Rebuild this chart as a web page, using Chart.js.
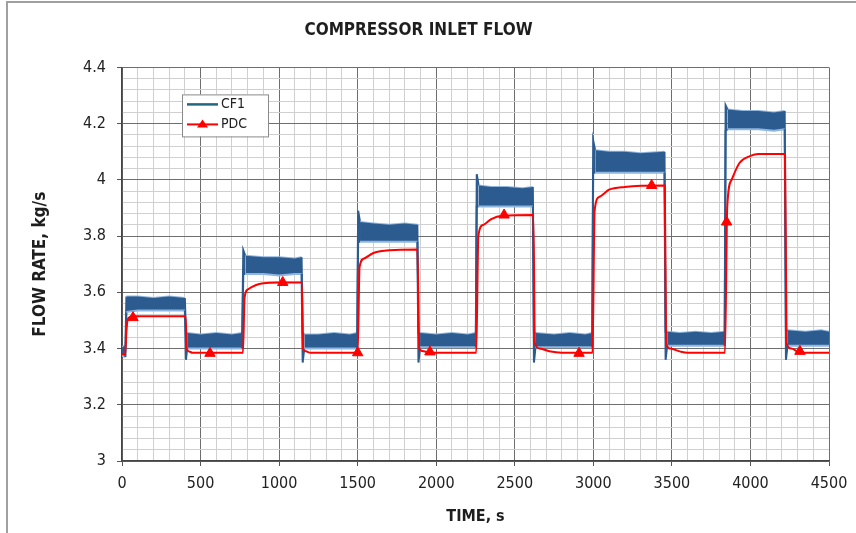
<!DOCTYPE html>
<html>
<head>
<meta charset="utf-8">
<script src="https://cdn.jsdelivr.net/npm/chart.js@4/dist/chart.umd.min.js"></script>
<style>
  html, body { margin: 0; padding: 0; background: #ffffff; }
  #wrap { position: relative; width: 856px; height: 533px; }
  canvas { display: block; }
</style>
</head>
<body>
<div id="wrap"><canvas id="c" width="856" height="533"></canvas></div>
<script>
// ---------------- DATA ----------------
const chartTitle = 'COMPRESSOR INLET FLOW';
const xTitle = 'TIME, s';
const yTitle = 'FLOW RATE, kg/s';
const seriesNames = ['CF1', 'PDC'];

// CF1 measured flow: noisy trace shown as an upper / lower envelope
const cf1Time = [0, 22, 28, 100, 200, 300, 400,
  407, 415, 500, 600, 700, 765,
  772, 785, 900, 1000, 1100, 1143,
  1150, 1160, 1250, 1350, 1450, 1497,
  1503, 1515, 1600, 1700, 1800, 1880,
  1887, 1897, 2000, 2100, 2200, 2252,
  2258, 2270, 2350, 2450, 2550, 2615,
  2622, 2632, 2750, 2850, 2950, 2993,
  2999, 3012, 3100, 3200, 3300, 3453,
  3460, 3470, 3550, 3650, 3750, 3836,
  3842, 3855, 3950, 4050, 4150, 4218,
  4226, 4236, 4350, 4450, 4500];
const cf1High = [3.405, 3.41, 3.585, 3.585, 3.58, 3.585, 3.58,
  3.45, 3.455, 3.45, 3.455, 3.45, 3.455,
  3.75, 3.73, 3.725, 3.725, 3.72, 3.725,
  3.455, 3.45, 3.45, 3.455, 3.45, 3.455,
  3.89, 3.85, 3.845, 3.84, 3.845, 3.84,
  3.455, 3.455, 3.45, 3.455, 3.45, 3.455,
  4.02, 3.98, 3.975, 3.975, 3.97, 3.975,
  3.455, 3.455, 3.45, 3.455, 3.45, 3.455,
  4.14, 4.105, 4.10, 4.10, 4.095, 4.10,
  3.46, 3.46, 3.455, 3.46, 3.455, 3.46,
  4.265, 4.25, 4.245, 4.245, 4.24, 4.245,
  3.465, 3.465, 3.46, 3.465, 3.46];
const cf1Low = [3.375, 3.37, 3.53, 3.535, 3.535, 3.535, 3.535,
  3.36, 3.40, 3.40, 3.40, 3.40, 3.40,
  3.665, 3.665, 3.665, 3.66, 3.665, 3.665,
  3.35, 3.40, 3.40, 3.40, 3.40, 3.40,
  3.78, 3.78, 3.78, 3.78, 3.78, 3.78,
  3.35, 3.405, 3.405, 3.405, 3.405, 3.405,
  3.905, 3.905, 3.905, 3.905, 3.905, 3.905,
  3.35, 3.405, 3.405, 3.405, 3.405, 3.405,
  4.025, 4.025, 4.025, 4.025, 4.025, 4.025,
  3.36, 3.41, 3.41, 3.41, 3.41, 3.41,
  4.175, 4.18, 4.18, 4.18, 4.175, 4.18,
  3.36, 3.41, 3.41, 3.41, 3.41];

// PDC predicted flow (smooth line)
const pdcTime = [0, 20, 28, 35, 50, 70, 200, 405,
  412, 425, 450, 600, 770,
  780, 800, 850, 900, 1000, 1145,
  1152, 1170, 1200, 1350, 1500,
  1512, 1540, 1600, 1700, 1880,
  1892, 1920, 1960, 2100, 2255,
  2268, 2300, 2350, 2420, 2618,
  2628, 2660, 2720, 2800, 2995,
  3008, 3040, 3100, 3200, 3455,
  3463, 3490, 3550, 3600, 3838,
  3852, 3880, 3930, 4000, 4050, 4220,
  4230, 4260, 4300, 4350, 4500];
const pdcValue = [3.38, 3.38, 3.46, 3.50, 3.512, 3.515, 3.515, 3.515,
  3.40, 3.39, 3.385, 3.385, 3.385,
  3.58, 3.61, 3.625, 3.632, 3.635, 3.635,
  3.40, 3.39, 3.385, 3.385, 3.385,
  3.69, 3.72, 3.74, 3.75, 3.752,
  3.40, 3.39, 3.385, 3.385, 3.385,
  3.80, 3.84, 3.86, 3.872, 3.875,
  3.42, 3.40, 3.39, 3.385, 3.385,
  3.89, 3.94, 3.965, 3.975, 3.98,
  3.42, 3.40, 3.39, 3.385, 3.385,
  3.90, 4.00, 4.06, 4.085, 4.092, 4.092,
  3.42, 3.40, 3.39, 3.385, 3.385];

// PDC triangle markers
const pdcMarkTime = [70, 560, 1023, 1500, 1960, 2432, 2909, 3371, 3848, 4315];
const pdcMarkValue = [3.51, 3.383, 3.635, 3.385, 3.388, 3.875, 3.383, 3.98, 3.85, 3.39];

// axes
const xMin = 0, xMax = 4500, xMajor = 500, xMinor = 100;
const yMin = 3, yMax = 4.4, yMajor = 0.2, yMinor = 0.04;

// ---------------- BUILD ----------------
const toPts = (xs, ys) => xs.map((x, i) => ({ x: x, y: ys[i] }));
const FONT = 'DejaVu Sans';
const FONT_C = 'DejaVu Sans Condensed';
const BLUE_DARK = '#2c5b90';
const BLUE_LIGHT = '#8fb6de';
const RED = '#ff0000';

const isMult = (v, step) => Math.abs(Math.round(v / step) * step - v) < 1e-6;

const bandSeg = {
  borderColor: ctx => (Math.abs(ctx.p1.parsed.x - ctx.p0.parsed.x) < 15 ? BLUE_DARK : BLUE_LIGHT)
};

const frameAndLegend = {
  id: 'frameAndLegend',
  beforeDraw(chart) {
    const c = chart.ctx;
    c.save();
    c.fillStyle = '#ffffff';
    c.fillRect(0, 0, chart.width, chart.height);
    c.strokeStyle = '#a0a0a0';
    c.lineWidth = 2;
    c.beginPath();
    c.moveTo(7, chart.height);
    c.lineTo(7, 2);
    c.lineTo(chart.width, 2);
    c.stroke();
    c.restore();
  },
  afterDraw(chart) {
    const c = chart.ctx;
    const a = chart.chartArea;
    const bx = a.left + 60, by = a.top + 27, bw = 86, bh = 42;
    c.save();
    c.fillStyle = '#ffffff';
    c.fillRect(bx, by, bw, bh);
    c.strokeStyle = '#8a8a8a';
    c.lineWidth = 1;
    c.strokeRect(bx + 0.5, by + 0.5, bw, bh);
    // CF1
    c.strokeStyle = '#23667f';
    c.lineWidth = 2.5;
    c.beginPath(); c.moveTo(bx + 5, by + 10); c.lineTo(bx + 36, by + 10); c.stroke();
    // PDC
    c.strokeStyle = RED;
    c.lineWidth = 2;
    c.beginPath(); c.moveTo(bx + 5, by + 30); c.lineTo(bx + 36, by + 30); c.stroke();
    c.fillStyle = RED;
    c.beginPath();
    c.moveTo(bx + 20.5, by + 25); c.lineTo(bx + 26, by + 33); c.lineTo(bx + 15, by + 33); c.closePath(); c.fill();
    c.fillStyle = '#222';
    c.font = '14px ' + FONT_C;
    c.textBaseline = 'middle';
    c.textAlign = 'left';
    c.fillText(seriesNames[0], bx + 39, by + 10);
    c.fillText(seriesNames[1], bx + 39, by + 30);
    c.restore();
  }
};

new Chart(document.getElementById('c'), {
  type: 'line',
  data: {
    datasets: [
      { label: seriesNames[0] + ' high', data: toPts(cf1Time, cf1High), borderColor: BLUE_LIGHT,
        borderWidth: 2, pointRadius: 0, fill: false, tension: 0, segment: bandSeg, order: 3 },
      { label: seriesNames[0], data: toPts(cf1Time, cf1Low), borderColor: BLUE_LIGHT,
        backgroundColor: BLUE_DARK, borderWidth: 2, pointRadius: 0, fill: '-1', tension: 0, segment: bandSeg, order: 2 },
      { label: seriesNames[1], data: toPts(pdcTime, pdcValue), borderColor: RED,
        borderWidth: 2, pointRadius: 0, fill: false, tension: 0.3, cubicInterpolationMode: 'monotone', order: 1 },
      { label: seriesNames[1] + ' markers', data: toPts(pdcMarkTime, pdcMarkValue), showLine: false,
        pointStyle: 'triangle', pointRadius: 6, pointBackgroundColor: RED, pointBorderColor: RED, order: 0 }
    ]
  },
  options: {
    responsive: false,
    animation: false,
    devicePixelRatio: 1,
    layout: { padding: { left: 8, right: 27, top: 0, bottom: 0 } },
    plugins: {
      legend: { display: false },
      tooltip: { enabled: false },
      title: {
        display: true, text: chartTitle, color: '#1e1e1e',
        font: { family: FONT_C, size: 17, weight: 'bold', lineHeight: 1.2 },
        padding: { top: 20, bottom: 27 }
      }
    },
    scales: {
      x: {
        type: 'linear', min: xMin, max: xMax,
        afterFit: s => { s.height = 72; },
        ticks: {
          stepSize: xMinor, autoSkip: false, maxRotation: 0, maxTicksLimit: 1000,
          color: '#222', padding: 8, font: { family: FONT_C, size: 16 },
          callback: v => (isMult(v, xMajor) ? String(Math.round(v)) : '')
        },
        grid: {
          color: ctx => (isMult(ctx.tick.value, xMajor) ? '#6e6e6e' : '#d0d0d0'),
          tickColor: ctx => (isMult(ctx.tick.value, xMajor) ? '#555' : 'rgba(0,0,0,0)'),
          tickLength: 5, lineWidth: 1
        },
        border: { color: '#444', width: 1.5 },
        title: { display: true, text: xTitle, color: '#1e1e1e',
          font: { family: FONT_C, size: 16, weight: 'bold', lineHeight: 1.2 }, padding: { top: 0, bottom: 7 } }
      },
      y: {
        type: 'linear', min: yMin, max: yMax,
        afterFit: s => { s.width = 114; },
        ticks: {
          stepSize: yMinor, autoSkip: false, maxTicksLimit: 1000,
          color: '#222', padding: 11, font: { family: FONT_C, size: 16 },
          callback: v => (isMult(v, yMajor) ? String(Number(v.toFixed(1))) : '')
        },
        grid: {
          color: ctx => (isMult(ctx.tick.value, yMajor) ? '#6e6e6e' : '#d0d0d0'),
          tickColor: ctx => (isMult(ctx.tick.value, yMajor) ? '#555' : 'rgba(0,0,0,0)'),
          tickLength: 5, lineWidth: 1
        },
        border: { color: '#444', width: 1.5 },
        title: { display: true, text: yTitle, color: '#1e1e1e',
          font: { family: FONT_C, size: 17, weight: 'bold', lineHeight: 1.2 }, padding: { top: 22, bottom: 0 } }
      }
    }
  },
  plugins: [frameAndLegend]
});
</script>
</body>
</html>
